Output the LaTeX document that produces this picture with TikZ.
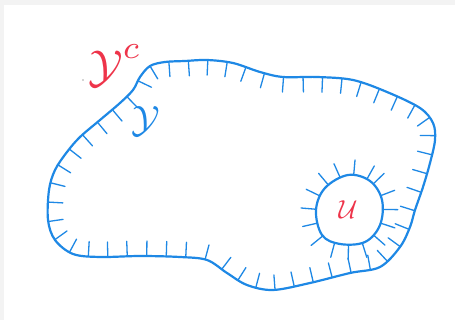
\documentclass[tikz,border=0pt]{standalone}
\usepackage{amsmath, amssymb}
\usepackage{tikz}
\usetikzlibrary{decorations.markings, calc}
\usepackage{xcolor}
\definecolor{penblue}{RGB}{30,136,229}
\definecolor{penred}{RGB}{238,52,74}
\definecolor{framegrey}{RGB}{243,243,243}

\begin{document}
\begin{tikzpicture}[
    x=1pt, y=-1pt,
    pen/.style={draw=penblue, line width=2.2pt, line join=round, line cap=round},
    hatchin/.style={postaction={decorate, decoration={markings,
        mark=between positions 0 and 1 step 19.5pt with
        {\draw[penblue, line width=1.3pt, line cap=round] (0,-1pt) -- (0,-15pt);}}}},
    hatchout/.style={postaction={decorate, decoration={markings,
        mark=between positions 0.02 and 1 step 14pt with
        {\draw[penblue, line width=1.3pt, line cap=round] (0,1pt) -- (0,15pt);}}}},
    redlabel/.style={text=penred, inner sep=0pt},
    bluelabel/.style={text=penblue, inner sep=0pt}
]
% frame of the screenshot
\fill[framegrey] (0,0) rectangle (455,320);
\fill[white] (4,5) rectangle (455,320);
\useasboundingbox (0,0) rectangle (455,320);

% outer region
\draw[pen, hatchin] plot[smooth cycle, tension=0.55] coordinates {
    (140,77) (150,66) (165,62) (185,61) (207,60) (233,63) (260,72)
    (283,77) (317,77) (353,80) (387,92) (420,108) (433,123) (435,140)
    (430,163) (423,187) (415,210) (410,227) (400,247) (380,267)
    (350,273) (310,283) (273,290) (247,285) (227,273) (207,260)
    (180,257) (140,256) (100,257) (73,254) (55,240) (48,220) (49,190)
    (55,170) (67,152) (80,137) (100,120) (120,103) (133,90)};

% inner hole
\draw[pen, hatchout] plot[smooth cycle, tension=0.6] coordinates {
    (348,175) (370,181) (382,200) (380,225) (365,242) (340,244)
    (322,235) (316,210) (325,188)};

% labels
\node[redlabel, scale=4.6] (ycomp) at (115,66) {$\mathcal{Y}^{\raisebox{1.5pt}{$\scriptstyle c$}}$};
\node[bluelabel, scale=3.8] (yset) at (146,121) {$\mathcal{Y}$};
\node[redlabel, scale=2.6] (uset) at (348,210) {$\mathcal{U}$};
\fill[black!70] (83,80) circle (0.6);
\end{tikzpicture}
\end{document}
